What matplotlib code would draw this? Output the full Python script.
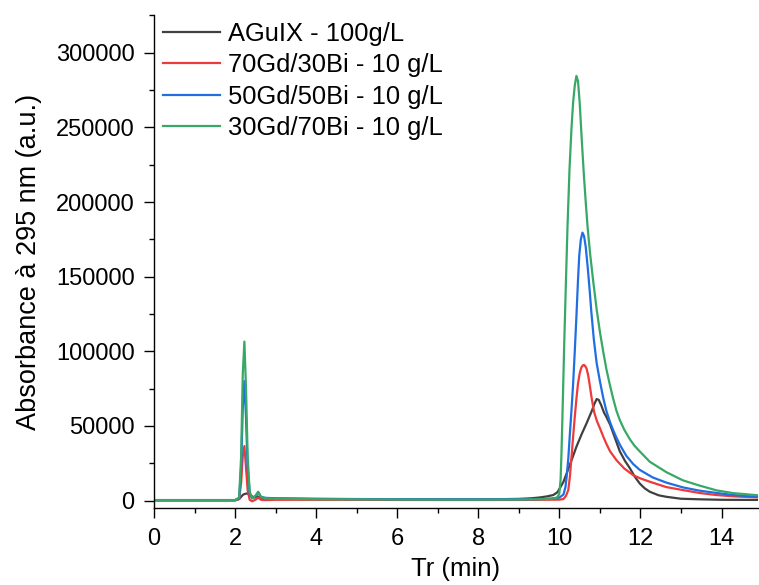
import matplotlib
matplotlib.use("Agg")
import matplotlib.pyplot as plt
from matplotlib.ticker import MultipleLocator

plt.rcParams['font.family'] = ['Liberation Sans', 'DejaVu Sans']

# ---- data (x in min, y in absorbance units / 1000) ----
labels = ["AGuIX - 100g/L", "70Gd/30Bi - 10 g/L", "50Gd/50Bi - 10 g/L", "30Gd/70Bi - 10 g/L"]
colors = ["#404040", "#ee3a3a", "#1f6fe3", "#37a866"]

x_aguix = [0, 1, 2.0, 2.1, 2.2, 2.29, 2.38, 2.47, 2.55, 2.62, 2.75, 3, 4, 5, 6, 7, 8, 8.5, 9, 9.3, 9.5,
           9.7, 9.85, 9.95, 10.01, 10.1, 10.18, 10.3, 10.42, 10.55, 10.67, 10.8, 10.86, 10.92, 10.97,
           11.03, 11.1, 11.16, 11.25, 11.37, 11.49, 11.62, 11.74, 11.86, 11.98, 12.1, 12.23, 12.45,
           12.64, 13.0, 13.5, 14.0, 14.9]
y_aguix = [0.3, 0.3, 0.3, 1, 4, 4.8, 3.5, 2, 2.8, 2, 1.5, 1.2, 1.0, 0.9, 0.8, 0.8, 0.8, 0.9, 1.1, 1.5, 2.0,
           2.8, 3.7, 5.5, 8.2, 12.5, 18.2, 27, 36, 44.5, 51.7, 60, 64.5, 68, 67.5,
           64, 59, 56, 51, 42, 33, 26.5, 21.6, 16, 11.5, 8.3, 5.9, 3.5,
           2.5, 1.2, 0.8, 0.5, 0.4]

x_7030 = [0, 1, 2.0, 2.1, 2.15, 2.19, 2.23, 2.27, 2.31, 2.36, 2.42, 2.5, 2.57, 2.64, 2.75, 3, 4, 5, 6, 7, 8,
          9, 9.5, 10.0, 10.1, 10.16, 10.22, 10.26, 10.30, 10.34, 10.38, 10.42, 10.46, 10.5, 10.54, 10.58,
          10.61, 10.64, 10.67, 10.71, 10.74, 10.8, 10.86, 10.93, 11.0, 11.08, 11.16, 11.25, 11.41, 11.6,
          11.82, 12.0, 12.23, 12.64, 13.05, 13.47, 13.87, 14.3, 14.9]
y_7030 = [0.0, 0.0, 0.0, 1, 12, 30, 36.5, 22, 7, 0.5, -0.5, 0.5, 2.0, 0.5, 0.3, 0.5, 0.5, 0.5, 0.4, 0.4, 0.4,
          0.4, 0.5, 0.6, 1.0, 3, 7, 16, 29.4, 43, 56, 68, 78.5, 85, 89, 90.6,
          90.8, 90, 88.5, 84, 79, 68, 59, 53, 48.5, 43, 38, 33, 27, 21.5,
          17, 14.8, 12.6, 9, 7, 5, 3.7, 2.8, 2.1]

x_5050 = [0, 1, 2.0, 2.1, 2.15, 2.19, 2.23, 2.27, 2.31, 2.36, 2.42, 2.5, 2.57, 2.64, 2.75, 3, 4, 5, 6, 7, 8,
          9, 9.5, 9.8, 10.0, 10.1, 10.15, 10.18, 10.22, 10.26, 10.3, 10.34, 10.38, 10.42, 10.46, 10.49,
          10.53, 10.57, 10.61, 10.65, 10.7, 10.75, 10.79, 10.85, 10.92, 11.0, 11.08, 11.16, 11.25, 11.33,
          11.41, 11.5, 11.65, 11.82, 11.98, 12.3, 12.64, 13.05, 13.46, 13.9, 14.28, 14.9]
y_5050 = [0.3, 0.3, 0.3, 1.5, 22, 62, 80, 55, 22, 5, 1.5, 3, 5.5, 2.5, 1.8, 1.5, 1.2, 1.0, 0.9, 0.8, 0.8,
          0.9, 1.0, 1.3, 2.0, 4, 9, 16, 28, 45, 61, 78.5, 100, 123, 148, 164,
          175, 179.5, 177, 170, 156, 140, 126, 108, 92, 80, 69, 60, 52.5, 47,
          42, 37, 30, 24.5, 20.6, 15.5, 12, 8.8, 6.6, 5, 3.7, 2.5]

x_3070 = [0, 1, 2.0, 2.1, 2.15, 2.19, 2.23, 2.27, 2.31, 2.36, 2.42, 2.5, 2.57, 2.64, 2.75, 3, 4, 5, 6, 7, 8,
          9, 9.5, 9.8, 9.93, 9.98, 10.0, 10.03, 10.05, 10.07, 10.09, 10.12, 10.15, 10.2, 10.25, 10.3,
          10.34, 10.38, 10.42, 10.46, 10.5, 10.55, 10.6, 10.65, 10.7, 10.76, 10.83, 10.92, 11.0, 11.08,
          11.16, 11.25, 11.33, 11.41, 11.49, 11.6, 11.74, 11.86, 11.98, 12.23, 12.64, 13.05, 13.46,
          13.88, 14.28, 14.9]
y_3070 = [0.3, 0.3, 0.3, 2, 30, 85, 106.5, 75, 30, 6, 1.5, 3, 5.9, 2.5, 1.5, 1.2, 0.9, 0.8, 0.7, 0.6, 0.6,
          0.7, 0.9, 1.2, 1.8, 3.5, 5, 14, 30, 50, 72, 105, 135, 183, 222, 250,
          267, 278, 284.5, 281, 267, 243, 220, 200, 182, 165, 148, 128, 113, 100,
          88, 77, 68, 60, 54, 47.5, 41, 36.5, 33, 26, 19, 13.5, 10,
          6.8, 5, 3.5]

xs = [x_aguix, x_7030, x_5050, x_3070]
ys = [y_aguix, y_7030, y_5050, y_3070]

fig = plt.figure(figsize=(7.59, 5.85), dpi=100)
W, H = 759, 585
ax = fig.add_axes([154 / W, (H - 508.3) / H, (758 - 154) / W, (508.3 - 15) / H])

for x, y, c, lab in zip(xs, ys, colors, labels):
    ax.plot(x, [v * 1000 for v in y], color=c, lw=1.6, label=lab,
            solid_joinstyle="round")

ax.set_xlim(0, 14.9)
ax.set_ylim(-5200, 325300)
ax.xaxis.set_major_locator(MultipleLocator(2))
ax.xaxis.set_minor_locator(MultipleLocator(1))
ax.yaxis.set_minor_locator(MultipleLocator(25000))
ax.set_yticks(range(0, 300001, 50000))
ax.set_yticklabels([str(v) for v in range(0, 300001, 50000)])

for s in ["top", "right"]:
    ax.spines[s].set_visible(False)
for s in ["left", "bottom"]:
    ax.spines[s].set_linewidth(1.0)

ax.tick_params(which="major", direction="out", length=7, width=1.0, labelsize=17)
ax.tick_params(which="minor", direction="out", length=3.5, width=1.0)
ax.tick_params(axis="y", which="major", pad=7)
ax.tick_params(axis="x", which="major", pad=7)

ax.set_xlabel("Tr (min)", fontsize=18.5, labelpad=5)
ax.set_ylabel("Absorbance à 295 nm (a.u.)", fontsize=19.5, labelpad=10)

leg = ax.legend(loc="upper left", bbox_to_anchor=((163 - 154) / 604, (508.3 - 22) / 493.3),
                frameon=False, fontsize=18.4, borderpad=0, borderaxespad=0,
                handlelength=2.23, handletextpad=0.31, labelspacing=0.29)
for h in leg.get_lines():
    h.set_linewidth(1.6)

fig.savefig("out.png", dpi=100)
